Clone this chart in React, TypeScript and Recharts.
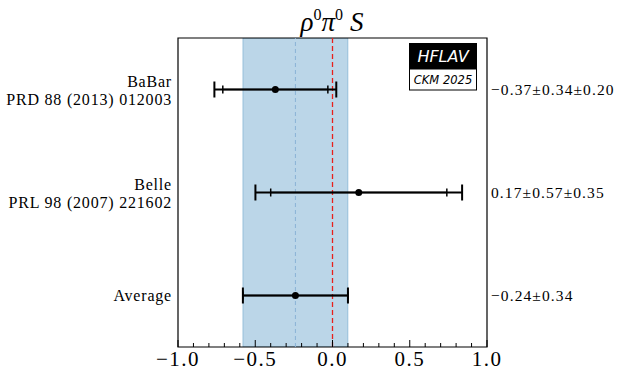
import { ScatterChart, Scatter, XAxis, YAxis, ErrorBar, ReferenceArea, ReferenceLine } from "recharts";

// rows from top to bottom
const experiments = ["BaBar", "Belle", "Average"];
const references = ["PRD 88 (2013) 012003", "PRL 98 (2007) 221602", ""];
const rows = [2, 1, 0];
const central = [-0.37, 0.17, -0.24];
const statErr = [0.34, 0.57, 0.34];
const systErr = [0.2, 0.35, 0];
const resultText = ["−0.37±0.34±0.20", "0.17±0.57±0.35", "−0.24±0.34"];

const average = -0.24;
const averageErr = 0.34;

const xTicks = [-1, -0.9, -0.8, -0.7, -0.6, -0.5, -0.4, -0.3, -0.2, -0.1, 0, 0.1, 0.2, 0.3, 0.4, 0.5, 0.6, 0.7, 0.8, 0.9, 1];

const points = rows.map((r, i) => ({
  x: central[i],
  y: r,
  stat: statErr[i],
  tot: Math.sqrt(statErr[i] ** 2 + systErr[i] ** 2),
}));

const SERIF = "'Liberation Serif', 'DejaVu Serif', serif";

function XTick({ x, y, payload }: any) {
  const v = payload.value as number;
  const major = Math.abs(v * 2 - Math.round(v * 2)) < 1e-6;
  const label = (v < 0 ? "−" : "") + Math.abs(v).toFixed(1);
  return (
    <g>
      <line x1={x} x2={x} y1={y} y2={y - (major ? 7 : 4)} stroke="#000" strokeWidth={1} />
      {major && (
        <text x={x} y={y + 19} textAnchor="middle" fontFamily={SERIF} fontSize={21} letterSpacing={1.5} fill="#000">
          {label}
        </text>
      )}
    </g>
  );
}

function LeftTick({ x, y, payload }: any) {
  const i = rows.indexOf(payload.value);
  if (i < 0) return null;
  const ref = references[i];
  return (
    <text x={x - 6} textAnchor="end" fontFamily={SERIF} fontSize={16} letterSpacing={0.8} fill="#000">
      {ref ? (
        <>
          <tspan x={x - 6} y={y - 3}>{experiments[i]}</tspan>
          <tspan x={x - 6} y={y + 15}>{ref}</tspan>
        </>
      ) : (
        <tspan x={x - 6} y={y + 5}>{experiments[i]}</tspan>
      )}
    </text>
  );
}

function RightTick({ x, y, payload }: any) {
  const i = rows.indexOf(payload.value);
  if (i < 0) return null;
  return (
    <text x={x + 4} y={y + 5} textAnchor="start" fontFamily={SERIF} fontSize={15.5} letterSpacing={1.1} fill="#000">
      {resultText[i]}
    </text>
  );
}

function Dot({ cx, cy }: any) {
  return <circle cx={cx} cy={cy} r={3.5} fill="#000" />;
}

export default function App() {
  return (
    <div style={{ position: "absolute", left: 0, top: 0, background: "#fff" }}>
      <ScatterChart width={627} height={382} margin={{ top: 38, right: 0, bottom: 0, left: 0 }}>
        <XAxis
          type="number"
          dataKey="x"
          domain={[-1, 1]}
          ticks={xTicks}
          interval={0}
          allowDataOverflow
          height={35}
          axisLine={false}
          tickLine={false}
          tickSize={0}
          tickMargin={0}
          tick={<XTick />}
        />
        <YAxis
          yAxisId="l"
          type="number"
          dataKey="y"
          domain={[-0.5, 2.5]}
          ticks={rows}
          interval={0}
          width={178}
          axisLine={false}
          tickLine={false}
          tickSize={0}
          tickMargin={0}
          tick={<LeftTick />}
        />
        <YAxis
          yAxisId="r"
          orientation="right"
          type="number"
          dataKey="y"
          domain={[-0.5, 2.5]}
          ticks={rows}
          interval={0}
          width={140}
          axisLine={false}
          tickLine={false}
          tickSize={0}
          tickMargin={0}
          tick={<RightTick />}
        />
        <ReferenceArea
          yAxisId="l"
          x1={average - averageErr}
          x2={average + averageErr}
          y1={-0.5}
          y2={2.5}
          fill="#1f77b4"
          fillOpacity={0.3}
          stroke="#1f77b4"
          strokeOpacity={0.3}
          ifOverflow="hidden"
        />
        <ReferenceLine yAxisId="l" x={average} stroke="#8ab2d6" strokeWidth={1} strokeDasharray="4 3" />
        <ReferenceLine yAxisId="l" x={0} stroke="#e8201c" strokeWidth={1.3} strokeDasharray="5 3" />
        <Scatter yAxisId="l" data={points} shape={<Dot />} isAnimationActive={false}>
          <ErrorBar dataKey="tot" direction="x" width={8} stroke="#000" strokeWidth={2} isAnimationActive={false} />
          <ErrorBar dataKey="stat" direction="x" width={4} stroke="#000" strokeWidth={1.5} isAnimationActive={false} />
        </Scatter>
        <Scatter yAxisId="r" data={points} shape={() => <g />} isAnimationActive={false} />
        <ReferenceArea
          yAxisId="l"
          x1={-1}
          x2={1}
          y1={-0.5}
          y2={2.5}
          fill="none"
          fillOpacity={0}
          stroke="#000"
          strokeWidth={1.2}
        />
        <text x={332} y={31} textAnchor="middle" fontFamily={SERIF} fontSize={27} fill="#000">
          <tspan fontStyle="italic">ρ</tspan>
          <tspan fontSize={16} dy={-11}>0</tspan>
          <tspan fontStyle="italic" dy={11}>π</tspan>
          <tspan fontSize={16} dy={-11}>0</tspan>
          <tspan fontStyle="italic" dy={11} dx={7}>S</tspan>
        </text>
        <rect x={409} y={43} width={68} height={26} fill="#000" />
        <rect x={409.5} y={69} width={67} height={21} fill="#fff" stroke="#000" strokeWidth={1} />
        <text x={443} y={62} textAnchor="middle" fontFamily="'DejaVu Sans', sans-serif" fontStyle="italic" fontSize={16} fill="#fff">
          HFLAV
        </text>
        <text x={443} y={84} textAnchor="middle" fontFamily="'DejaVu Sans', sans-serif" fontStyle="italic" fontSize={11.5} fill="#000">
          CKM 2025
        </text>
      </ScatterChart>
    </div>
  );
}
